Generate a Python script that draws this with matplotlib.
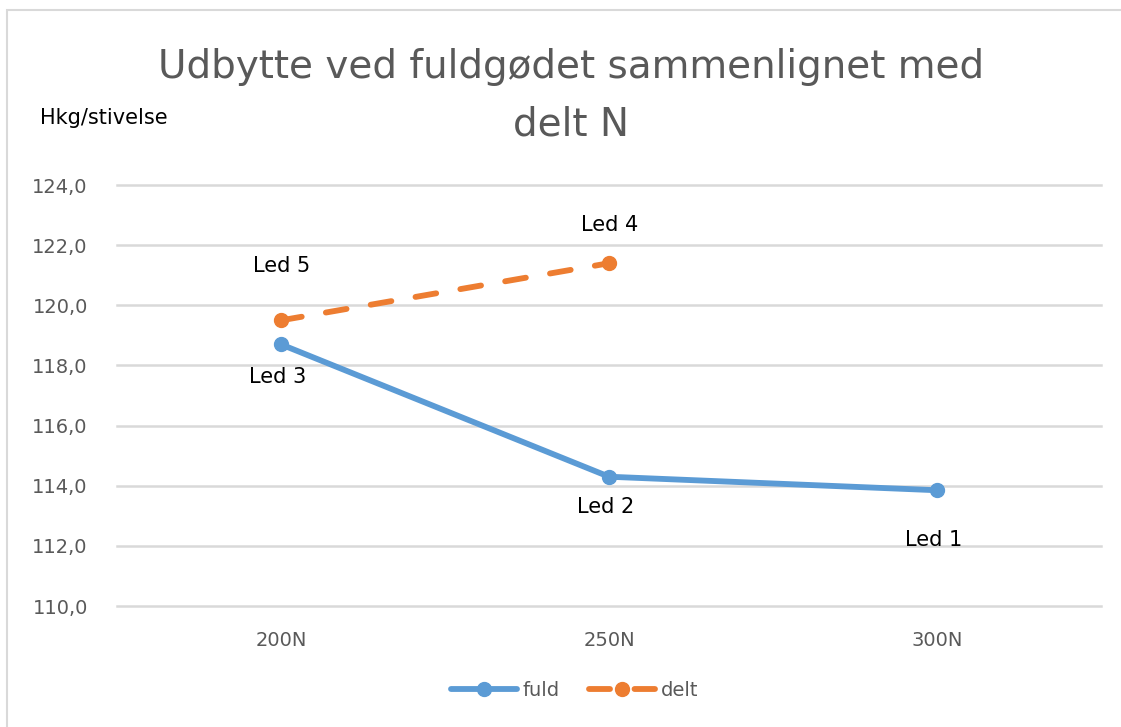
import matplotlib.pyplot as plt
from matplotlib.patches import Rectangle

# data
categories = ['200N', '250N', '300N']
fuld = [118.7, 114.3, 113.85]
delt = [119.5, 121.4]
fuld_labels = ['Led 3', 'Led 2', 'Led 1']
delt_labels = ['Led 5', 'Led 4']
yticks = [110, 112, 114, 116, 118, 120, 122, 124]

BLUE = '#5B9BD5'
ORANGE = '#ED7D31'
GREY_TXT = '#595959'
GRID = '#D9D9D9'

plt.rcParams['font.family'] = ['DejaVu Sans']

fig = plt.figure(figsize=(11.21, 7.27), dpi=100)
ax = fig.add_axes([0.1044, 0.1664, 0.8778, 0.5791])

# chart area border
fig.patches.append(Rectangle((7 / 1121, -0.05), 1.2, 1 - 10 / 727 + 0.05,
                             transform=fig.transFigure, fill=False,
                             edgecolor='#D9D9D9', linewidth=1.5))

xs = list(range(len(categories)))
ax.plot(xs, fuld, color=BLUE, linewidth=4.2, marker='o', markersize=10,
        solid_capstyle='round', label='fuld', zorder=3)
ax.plot(xs[:len(delt)], delt, color=ORANGE, linewidth=4.2, marker='o',
        markersize=10, dashes=(3.6, 4.2), dash_capstyle='round',
        label='delt', zorder=3)

# data labels
fuld_off = [-33, -30, -50]
for x, y, lab, off in zip(xs, fuld, fuld_labels, fuld_off):
    ax.annotate(lab, (x, y), xytext=(-3, off), textcoords='offset pixels',
                ha='center', va='center', fontsize=15, color='black')
delt_off = [54, 38]
for x, y, lab, off in zip(xs, delt, delt_labels, delt_off):
    ax.annotate(lab, (x, y), xytext=(1, off), textcoords='offset pixels',
                ha='center', va='center', fontsize=15, color='black')

ax.set_xlim(-0.5, 2.5)
ax.set_ylim(110, 124)
ax.set_xticks(xs)
ax.set_xticklabels(categories)
ax.set_yticks(yticks)
ax.set_yticklabels([f'{v:.1f}'.replace('.', ',') for v in yticks])
ax.tick_params(axis='both', length=0, labelsize=14, colors=GREY_TXT)
ax.tick_params(axis='x', pad=18)
ax.tick_params(axis='y', pad=21)
ax.yaxis.grid(True, color=GRID, linewidth=1.8)
for gl in ax.get_ygridlines():
    gl.set_clip_on(False)
ax.set_axisbelow(True)
for s in ax.spines.values():
    s.set_visible(False)

fig.text(0.509, 0.8685, 'Udbytte ved fuldgødet sammenlignet med\ndelt N',
         ha='center', va='center', fontsize=28, color=GREY_TXT,
         linespacing=1.65)
fig.text(40 / 1121, 1 - 118 / 727, 'Hkg/stivelse', ha='left', va='center',
         fontsize=15, color='black')

ax.legend(loc='center', bbox_to_anchor=(0.465, -0.2), ncol=2, frameon=False,
          fontsize=14, labelcolor=GREY_TXT, handlelength=3.4,
          columnspacing=1.5, handletextpad=0.3)

fig.savefig('out.png', dpi=100)
